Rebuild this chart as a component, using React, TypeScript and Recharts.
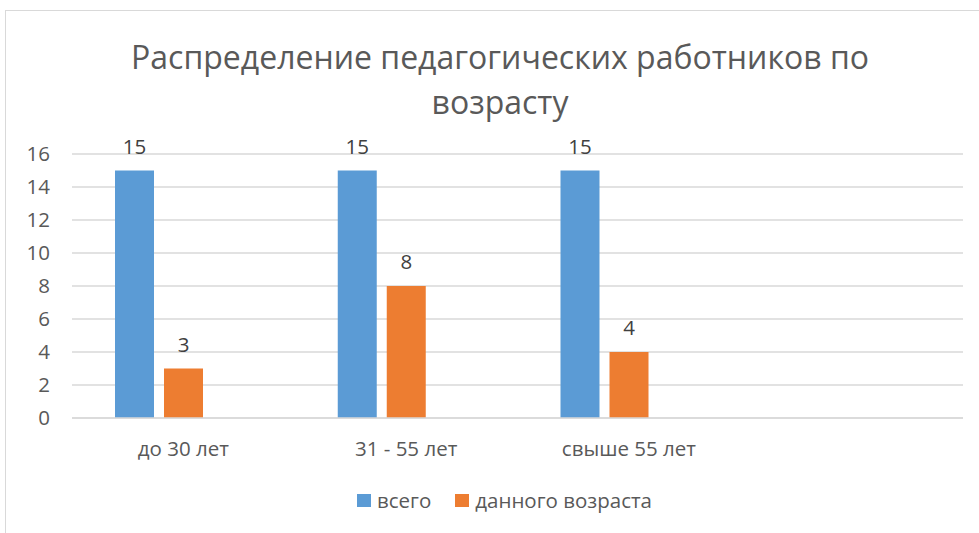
import React from "react";
import { BarChart, Bar, XAxis, YAxis, CartesianGrid, LabelList } from "recharts";

// categories (the 4th slot is empty in the source sheet)
const categories = ["до 30 лет", "31 - 55 лет", "свыше 55 лет", ""];
const totalValues = [15, 15, 15, null];
const ageValues = [3, 8, 4, null];
const yTicks = [0, 2, 4, 6, 8, 10, 12, 14, 16];

const data = categories.map((c, i) => ({
  category: c,
  total: totalValues[i],
  age: ageValues[i],
  blank: null,
}));

const FONT = "'Open Sans', sans-serif";
const GREY = "#595959";

const legendItems = [
  { name: "всего", color: "#5B9BD5" },
  { name: "данного возраста", color: "#ED7D31" },
];

function ChartLegend() {
  return (
    <div style={{ display: "flex", justifyContent: "center", alignItems: "center", fontFamily: FONT, fontSize: 20.5, color: GREY }}>
      {legendItems.map((it, i) => (
        <span key={it.name} style={{ display: "flex", alignItems: "center", marginLeft: i ? 24 : 0 }}>
          <span style={{ width: 14, height: 13, background: it.color, marginRight: 6, display: "inline-block" }} />
          {it.name}
        </span>
      ))}
    </div>
  );
}

export default function App() {
  return (
    <div style={{ position: "fixed", left: 0, top: 0, width: 979, height: 533, background: "#fff", overflow: "hidden" }}>
      {/* chart frame */}
      <div style={{ position: "absolute", left: 5, top: 10, width: 1100, height: 700, border: "1px solid #d9d9d9" }} />

      <div style={{ position: "absolute", left: 0, top: 34, width: 1000, textAlign: "center", fontFamily: FONT, fontSize: 32, lineHeight: "45px", color: GREY }}>
        Распределение педагогических работников по
        <br />
        возрасту
      </div>

      <div style={{ position: "absolute", left: 0, top: 0 }}>
        <BarChart
          width={979}
          height={533}
          data={data}
          margin={{ top: 154, right: 16, left: 0, bottom: 85 }}
          barGap={10}
          barCategoryGap={42}
        >
          <CartesianGrid vertical={false} stroke="#d9d9d9" strokeWidth={1.3} />
          <XAxis
            dataKey="category"
            height={30}
            axisLine={{ stroke: "#d9d9d9", strokeWidth: 1.3 }}
            tickLine={false}
            tickSize={0}
            tickMargin={23}
            tick={{ fontSize: 20.5, fill: GREY, fontFamily: FONT }}
            interval={0}
          />
          <YAxis
            width={72}
            domain={[0, 16]}
            ticks={yTicks}
            interval={0}
            axisLine={false}
            tickLine={false}
            tickSize={0}
            tickMargin={22}
            tick={{ fontSize: 20.5, fill: GREY, fontFamily: FONT }}
          />
          <Bar dataKey="total" name="всего" fill="#5B9BD5" barSize={39} isAnimationActive={false}>
            <LabelList dataKey="total" position="top" offset={17} style={{ fontSize: 20.5, fill: "#404040", fontFamily: FONT }} />
          </Bar>
          <Bar dataKey="age" name="данного возраста" fill="#ED7D31" barSize={39} isAnimationActive={false}>
            <LabelList dataKey="age" position="top" offset={17} style={{ fontSize: 20.5, fill: "#404040", fontFamily: FONT }} />
          </Bar>
          <Bar dataKey="blank" legendType="none" fill="#A5A5A5" barSize={39} isAnimationActive={false} />
        </BarChart>
      </div>

      <div style={{ position: "absolute", left: 0, top: 486, width: 1009 }}>
        <ChartLegend />
      </div>
    </div>
  );
}
